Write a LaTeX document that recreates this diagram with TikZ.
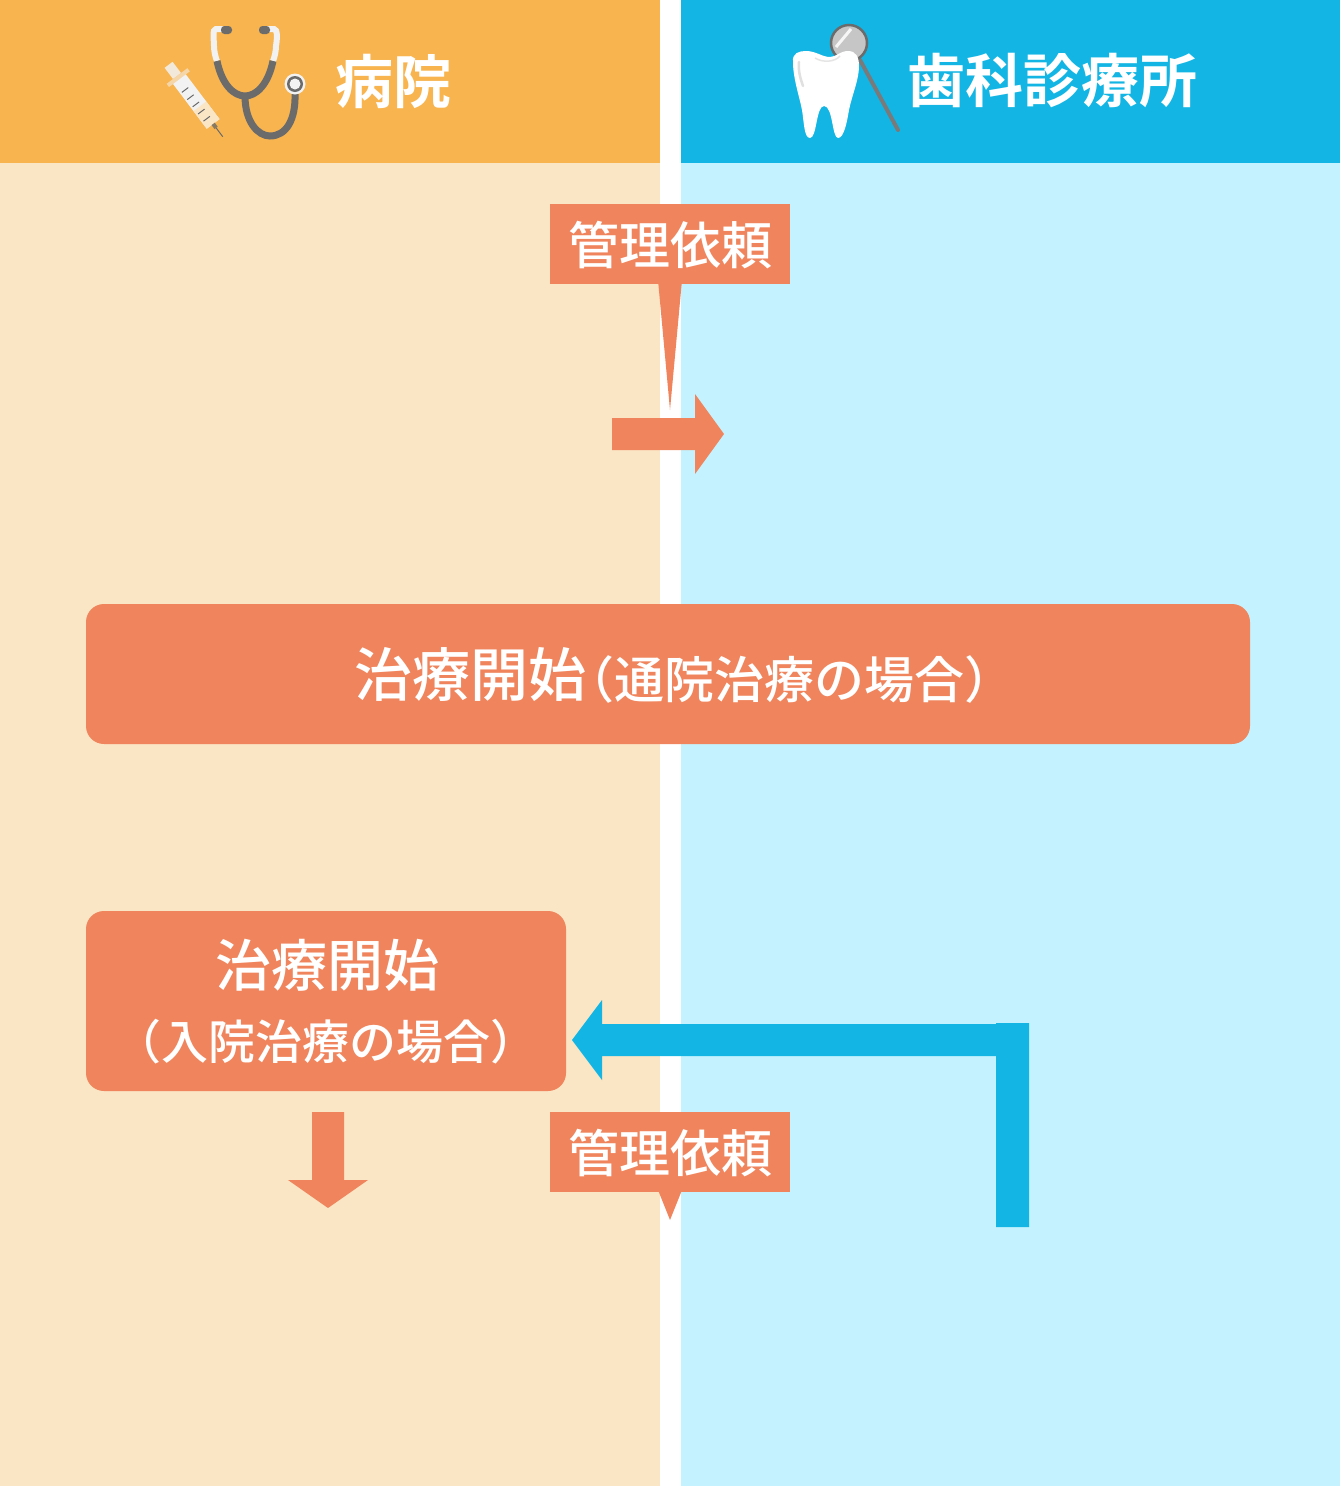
\documentclass[tikz,border=0pt]{standalone}
\usepackage{fontspec}
\setmainfont{Noto Sans CJK JP}
\newfontfamily\jpm{Noto Sans CJK JP Medium}
\newfontfamily\jpb{Noto Sans CJK JP Bold}
\usetikzlibrary{calc}
\definecolor{orhead}{HTML}{F8B44F}
\definecolor{orbody}{HTML}{FAE5C5}
\definecolor{blhead}{HTML}{12B5E3}
\definecolor{blbody}{HTML}{C4F3FF}
\definecolor{salmon}{HTML}{F0845C}
\definecolor{steth}{HTML}{6B6B6B}
\definecolor{pale}{HTML}{F2F2F2}
\tikzset{
  x=1pt,y=-1pt,
  txt/.style={text=white,inner sep=0pt,font=\jpm},
  head/.style={txt,font=\jpb\fontsize{58}{58}\selectfont},
  bub/.style={fill=salmon,text=white,inner sep=0pt,minimum width=240pt,minimum height=80pt,font=\jpm\fontsize{51}{51}\selectfont},
  rbox/.style={fill=salmon,rounded corners=18pt,inner sep=0pt},
  tube/.style={draw=steth,line width=7pt,line cap=butt},
  wtube/.style={draw=pale,line width=6pt,line cap=butt},
}
\begin{document}
\begin{tikzpicture}
\useasboundingbox (0,0) rectangle (1340,1486);
% columns
\fill[orbody] (0,163) rectangle (660,1486);
\fill[blbody] (681,163) rectangle (1340,1486);
\fill[orhead] (0,0) rectangle (660,163);
\fill[blhead] (681,0) rectangle (1340,163);
% syringe
\begin{scope}[shift={(171,68)},rotate=37]
  \fill[pale!85!orhead] (-5,-4) rectangle (5,10);
  \fill[pale!55!orhead] (-13,10) rectangle (13,14);
  \fill[pale] (-8,14) rectangle (8,70);
  \fill[orbody] (-8,48) rectangle (8,70);
  \foreach \yy in {26,35,44,53,62} \draw[steth,line width=1pt] (-6,\yy) -- (2,\yy);
  \fill[steth!80!orhead] (-2,70) rectangle (2,75);
  \draw[steth,line width=1pt] (0,75) -- (0,86);
\end{scope}
% stethoscope
\draw[wtube] (223,29) -- (216,29) .. controls (212,29) and (214,40) .. (214,46) .. controls (214,50) and (215,56) .. (217,61);
\draw[wtube] (266,29) -- (274,29) .. controls (278,29) and (277,40) .. (276,46) .. controls (276,50) and (275,56) .. (273,61);
\draw[tube] (217,61) .. controls (222,85) and (234,96) .. (245,96) .. controls (256,96) and (268,85) .. (273,61);
\draw[tube] (245,96) .. controls (245,122) and (258,136) .. (270,136) .. controls (286,136) and (296,120) .. (295,93);
\fill[steth,rounded corners=3.5pt] (221,26) rectangle (232,34);
\fill[steth,rounded corners=3.5pt] (259,26) rectangle (270,34);
\fill[pale] (295,84) circle (10.5);
\fill[steth] (295,84) circle (8);
\fill[pale] (295,84) circle (5.5);
\node[head] (hosp) at (393,81) {病院};
% mirror
\draw[steth!90!white,line width=4pt,line cap=round] (860,60) -- (898,130);
\fill[lightgray!90!white,draw=steth,line width=2.5pt] (849,43) circle (18);
\draw[white!85!lightgray,line width=3pt] (836,47) -- (851,29);
% tooth
\fill[white] (793,62) .. controls (792,53) and (799,51) .. (806,51)
  .. controls (816,51) and (822,57) .. (830,57)
  .. controls (836,57) and (840,51) .. (848,51)
  .. controls (856,51) and (859,57) .. (859,66)
  .. controls (859,80) and (852,95) .. (849,110)
  .. controls (847,122) and (844,138) .. (838,138)
  .. controls (832,138) and (833,106) .. (824,106)
  .. controls (816,106) and (817,138) .. (810,138)
  .. controls (804,138) and (804,122) .. (802,110)
  .. controls (799,95) and (793,78) .. (793,62) -- cycle;
\draw[white!88!black,line width=2.5pt,line cap=round] (799,62) .. controls (798,72) and (801,80) .. (803,86);
\draw[white!90!black,line width=1.5pt] (815,58) .. controls (823,63) and (835,62) .. (840,56);
\node[head] (dent) at (1052,81) {歯科診療所};
% callout 1
\fill[salmon] (658,280) -- (682,280) -- (670,410) -- cycle;
\node[bub] (req1) at (670,244) {};
\node[txt,font=\jpm\fontsize{51}{51}\selectfont] (req1t) at (670,245) {管理依頼};
% arrow right
\fill[salmon] (612,418) -- (695,418) -- (695,394) -- (724,434) -- (695,474) -- (695,450) -- (612,450) -- cycle;
% wide box
\node[rbox,minimum width=1164pt,minimum height=140pt] (outp) at (668,674) {};
\node[txt,anchor=base west,font=\jpm\fontsize{58}{58}\selectfont] (outa) at (354,696) {治療開始};
\node[txt,anchor=base west,font=\jpm\fontsize{50}{50}\selectfont] (outb) at (564,698) {（通院治療の場合）};
% small box
\node[rbox,minimum width=480pt,minimum height=180pt] (inp) at (326,1001) {};
\node[txt,anchor=base,font=\jpm\fontsize{56}{56}\selectfont] (ina) at (327,986) {治療開始};
\node[txt,anchor=base,font=\jpm\fontsize{47}{47}\selectfont] (inb) at (326,1059) {（入院治療の場合）};
% blue arrow
\fill[blhead] (572,1040) -- (602,1000) -- (602,1024) -- (996,1024) -- (996,1023) -- (1029,1023) -- (1029,1227) -- (996,1227) -- (996,1056) -- (602,1056) -- (602,1080) -- cycle;
% down arrow
\fill[salmon] (312,1112) -- (344,1112) -- (344,1180) -- (368,1180) -- (328,1208) -- (288,1180) -- (312,1180) -- cycle;
% callout 2
\fill[salmon] (658,1190) -- (682,1190) -- (670,1220) -- cycle;
\node[bub] (req2) at (670,1152) {};
\node[txt,font=\jpm\fontsize{51}{51}\selectfont] (req2t) at (670,1153) {管理依頼};
\end{tikzpicture}
\end{document}
